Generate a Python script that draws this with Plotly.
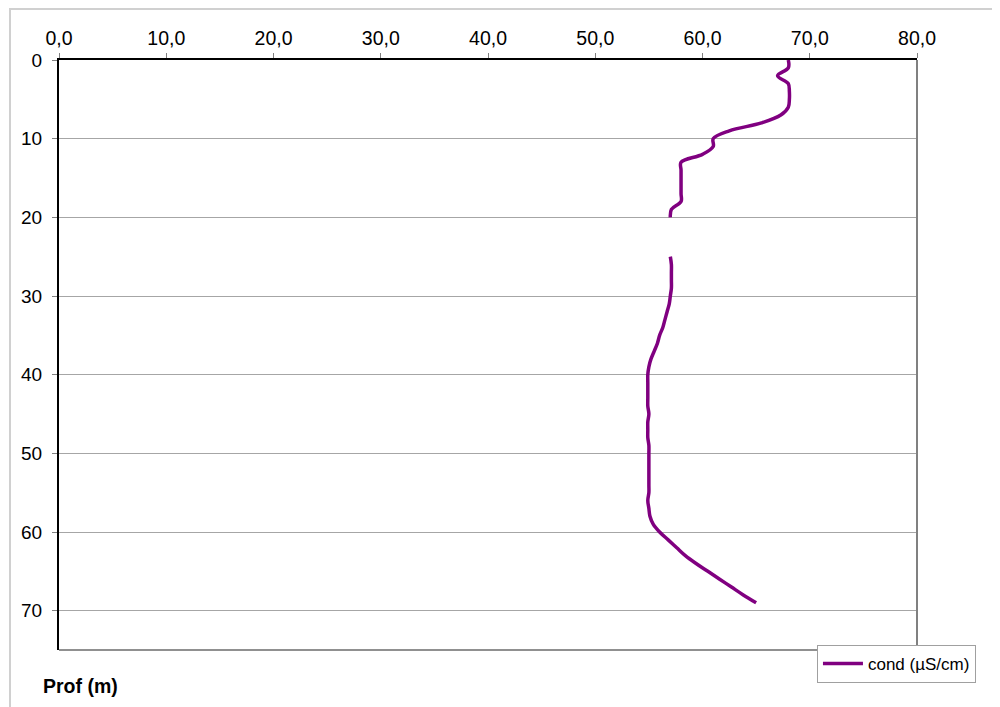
import plotly.graph_objects as go

depth = [0, 1, 2, 3, 4, 5, 6, 7, 8, 9, 10, 11, 12, 13, 14, 15, 16, 17, 18, 19, 20,
         21, 22, 23, 24,
         25, 26, 27, 28, 29, 30, 31, 32, 33, 34, 35, 36, 37, 38, 39, 40,
         41, 42, 43, 44, 45, 46, 47, 48, 49, 50, 51, 52, 53, 54, 55, 56, 57, 58, 59,
         60, 61, 62, 63, 64, 65, 66, 67, 68, 69]
cond = [68.0, 68.0, 67.0, 68.0, 68.1, 68.1, 68.0, 67.3, 65.5, 62.5, 61.0, 61.0, 60.0, 58.0,
        58.0, 58.0, 58.0, 58.0, 58.0, 57.1, 57.0,
        None, None, None, None,
        57.0, 57.1, 57.1, 57.1, 57.1, 57.0, 56.9, 56.7, 56.5, 56.3, 56.0, 55.8, 55.5, 55.2, 55.0, 54.9,
        54.9, 54.9, 54.9, 54.9, 55.0, 54.9, 54.9, 54.9, 55.0, 55.0, 55.0, 55.0, 55.0, 55.0, 55.0,
        54.9, 55.0, 55.1, 55.4,
        56.0, 56.8, 57.6, 58.4, 59.4, 60.5, 61.6, 62.7, 63.8, 65.0]

x_ticks = [0, 10, 20, 30, 40, 50, 60, 70, 80]
y_ticks = [0, 10, 20, 30, 40, 50, 60, 70]

fig = go.Figure()
fig.add_trace(go.Scatter(
    x=cond, y=depth, mode="lines", name="cond (µS/cm)",
    line=dict(color="#800080", width=3.5, shape="spline", smoothing=1.0),
    connectgaps=False,
))

fig.update_layout(
    width=1000, height=707,
    paper_bgcolor="white", plot_bgcolor="white",
    margin=dict(l=51, r=91, t=52, b=65),
    font=dict(family="Liberation Sans, Arial, sans-serif", size=19, color="black"),
    separators=",.",
    showlegend=True,
    legend=dict(x=0.8834, y=0.0085, xanchor="left", yanchor="top",
                bgcolor="white", bordercolor="#a0a0a0", borderwidth=1,
                font=dict(size=17), tracegroupgap=0, itemwidth=40),
    xaxis=dict(side="top", range=[0, 80], tickvals=x_ticks, tickformat=".1f",
               showgrid=False, zeroline=False,
               showline=True, linecolor="black", linewidth=2,
               ticks="outside", ticklen=5, tickcolor="#808080",
               tickfont=dict(size=19.5)),
    yaxis=dict(range=[75, 0], tickvals=y_ticks, showgrid=True, gridcolor="#a6a6a6",
               gridwidth=1, zeroline=False,
               showline=True, linecolor="black", linewidth=2,
               ticks="outside", ticklen=5, tickcolor="#808080",
               ticklabelstandoff=6),
    shapes=[
        dict(type="line", xref="paper", yref="paper", x0=1, x1=1, y0=0, y1=1,
             line=dict(color="#808080", width=2)),
        dict(type="line", xref="paper", yref="paper", x0=0, x1=1, y0=0, y1=0,
             line=dict(color="#909090", width=2)),
        dict(type="rect", xref="paper", yref="paper", x0=-0.0571, x1=1.0967,
             y0=-0.11, y1=1.0864, line=dict(color="#d0d0d0", width=2), layer="below"),
    ],
    annotations=[
        dict(text="<b>Prof (m)</b>", xref="paper", yref="paper", x=-0.021, y=-0.061,
             xanchor="left", yanchor="middle", showarrow=False, font=dict(size=19.5)),
    ],
)

fig.write_html("out.html")
